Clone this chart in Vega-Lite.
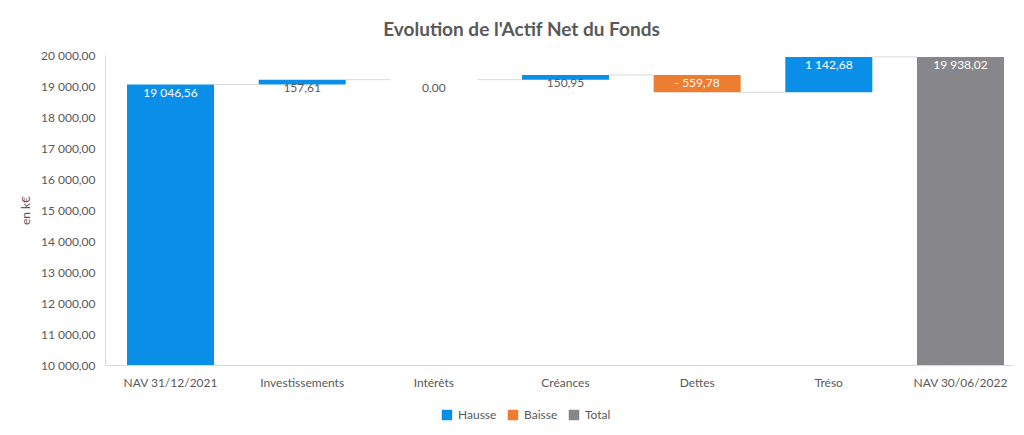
{
  "$schema": "https://vega.github.io/schema/vega-lite/v6.json",
  "width": 907,
  "height": 310,
  "autosize": {"type": "none"},
  "padding": {"left": 105, "top": 55, "right": 12, "bottom": 70},
  "background": "white",
  "title": {"text": "Evolution de l'Actif Net du Fonds", "font": "Lato", "fontSize": 19, "fontWeight": "bold", "color": "#595959", "anchor": "middle", "dx": -37, "offset": 9},
  "config": {
    "locale": {"number": {"decimal": ",", "thousands": " ", "grouping": [3], "currency": ["", " €"], "minus": "- "}},
    "view": {"stroke": null},
    "font": "Lato"
  },
  "data": {"values": [
    {"cat": "NAV 31/12/2021", "start": 0, "end": 19046.56, "amount": 19046.56, "type": "Hausse", "next": "Investissements"},
    {"cat": "Investissements", "start": 19046.56, "end": 19204.17, "amount": 157.61, "type": "Hausse", "next": "Intérêts"},
    {"cat": "Intérêts", "start": 19204.17, "end": 19204.17, "amount": 0, "type": "Hausse", "next": "Créances"},
    {"cat": "Créances", "start": 19204.17, "end": 19355.12, "amount": 150.95, "type": "Hausse", "next": "Dettes"},
    {"cat": "Dettes", "start": 19355.12, "end": 18795.34, "amount": -559.78, "type": "Baisse", "next": "Tréso"},
    {"cat": "Tréso", "start": 18795.34, "end": 19938.02, "amount": 1142.68, "type": "Hausse", "next": "NAV 30/06/2022"},
    {"cat": "NAV 30/06/2022", "start": 0, "end": 19938.02, "amount": 19938.02, "type": "Total", "next": null}
  ]},
  "layer": [
    {
      "mark": {"type": "bar"},
      "encoding": {
        "x": {"field": "cat", "type": "nominal", "sort": null,
          "scale": {"domain": ["NAV 31/12/2021", "Investissements", "Intérêts", "Créances", "Dettes", "Tréso", "NAV 30/06/2022"], "paddingInner": 0.339, "paddingOuter": 0.114, "align": 0.733},
          "axis": {"title": null, "labelAngle": 0, "labelFontSize": 12, "labelColor": "#595959", "labelPadding": 12, "ticks": false, "domainColor": "#d9d9d9", "domainWidth": 1}},
        "y": {"field": "start", "type": "quantitative",
          "scale": {"domain": [10000, 20000], "clamp": true, "nice": false, "zero": false},
          "axis": {"title": "en k€", "titleFontSize": 12, "titleColor": "#595959", "titleFontWeight": "normal", "titlePadding": 8,
            "grid": false, "ticks": false, "labelPadding": 10, "labelFontSize": 12, "labelColor": "#595959", "labelOverlap": false,
            "domainColor": "#d9d9d9", "format": ",.2f", "tickCount": 20,
            "values": [10000, 11000, 12000, 13000, 14000, 15000, 16000, 17000, 18000, 19000, 20000]}},
        "y2": {"field": "end"},
        "color": {"field": "type", "type": "nominal",
          "scale": {"domain": ["Hausse", "Baisse", "Total"], "range": ["#0a8fe8", "#ed7d31", "#87878b"]},
          "legend": {"title": null, "orient": "none", "legendX": 336, "legendY": 354, "direction": "horizontal",
            "symbolType": "square", "symbolSize": 110, "symbolStrokeWidth": 0, "labelFontSize": 12, "labelColor": "#595959",
            "columnPadding": 10, "labelOffset": 5}}
      }
    },
    {
      "transform": [{"filter": "datum.next != null"}],
      "mark": {"type": "rule", "color": "#d9d9d9", "strokeWidth": 1},
      "encoding": {
        "x": {"field": "cat", "type": "nominal", "bandPosition": 1},
        "x2": {"field": "next", "bandPosition": 0},
        "y": {"field": "end", "type": "quantitative"}
      }
    },
    {
      "transform": [{"filter": "datum.amount >= 0"}],
      "mark": {"type": "text", "baseline": "top", "dy": 3, "fontSize": 12, "align": "center"},
      "encoding": {
        "x": {"field": "cat", "type": "nominal"},
        "y": {"field": "end", "type": "quantitative"},
        "text": {"field": "amount", "type": "quantitative", "format": ",.2f"},
        "color": {"condition": {"test": "abs(datum.amount) > 300", "value": "#ffffff"}, "value": "#595959"}
      }
    },
    {
      "transform": [{"filter": "datum.amount < 0"}],
      "mark": {"type": "text", "baseline": "top", "dy": 3, "fontSize": 12, "align": "center"},
      "encoding": {
        "x": {"field": "cat", "type": "nominal"},
        "y": {"field": "start", "type": "quantitative"},
        "text": {"field": "amount", "type": "quantitative", "format": ",.2f"},
        "color": {"condition": {"test": "abs(datum.amount) > 300", "value": "#ffffff"}, "value": "#595959"}
      }
    }
  ]
}
